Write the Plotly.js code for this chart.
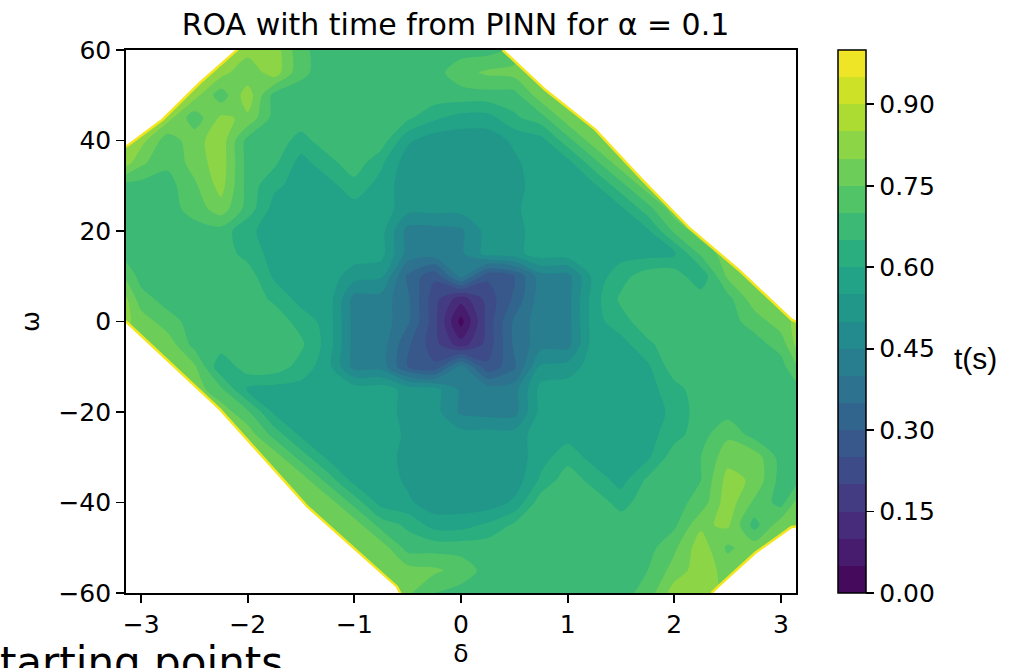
<!DOCTYPE html>
<html><head><meta charset="utf-8">
<script src="https://cdn.plot.ly/plotly-3.0.1.min.js"></script>
<style>html,body{margin:0;padding:0;background:#fff;overflow:hidden}#chart{width:1023px;height:668px}</style>
</head><body><div id="chart"></div>
<script>
// rotor angle δ (rad) and speed ω grid
const deltaGrid = [-3.1416,-3.0,-2.75,-2.5,-2.25,-2.0,-1.75,-1.5,-1.25,-1.0,-0.75,-0.5,-0.25,0,0.25,0.5,0.75,1.0,1.25,1.5,1.75,2.0,2.25,2.5,2.75,3.0,3.1416];
const omegaGrid = [-60,-55,-50,-45,-40,-35,-30,-25,-20,-15,-10,-5,0,5,10,15,20,25,30,35,40,45,50,55,60];
// time t(s) to reach the equilibrium, rows follow omegaGrid
const tGrid = [
[.79,.79,.79,.79,.79,.79,.79,.79,.79,.79,.79,.76,.70,.68,.68,.68,.68,.68,.68,.68,.72,.83,.82,.79,.79,.79,.79],
[.79,.79,.79,.79,.79,.79,.79,.79,.79,.79,.79,.77,.76,.73,.68,.68,.68,.68,.68,.68,.70,.77,.83,.78,.79,.79,.79],
[.79,.79,.79,.79,.79,.79,.79,.79,.79,.79,.78,.68,.68,.68,.68,.68,.68,.68,.68,.68,.68,.74,.83,.74,.78,.79,.79],
[.79,.79,.79,.79,.79,.79,.79,.79,.79,.78,.68,.64,.58,.58,.61,.66,.68,.68,.68,.68,.68,.69,.79,.81,.68,.78,.79],
[.79,.79,.79,.79,.79,.79,.79,.79,.78,.68,.58,.56,.52,.52,.52,.56,.68,.68,.68,.63,.68,.68,.72,.83,.74,.68,.76],
[.79,.79,.79,.79,.79,.79,.79,.78,.68,.58,.58,.54,.52,.52,.52,.52,.61,.68,.63,.58,.66,.68,.70,.82,.79,.68,.68],
[.79,.79,.79,.79,.79,.79,.78,.68,.59,.58,.58,.53,.52,.52,.52,.52,.58,.63,.58,.58,.59,.68,.70,.78,.78,.68,.68],
[.79,.79,.79,.79,.79,.78,.68,.59,.58,.58,.58,.54,.52,.52,.52,.52,.58,.58,.58,.58,.58,.63,.68,.74,.68,.68,.68],
[.79,.79,.79,.79,.78,.71,.59,.58,.58,.58,.58,.53,.52,.44,.43,.43,.57,.58,.58,.58,.58,.61,.68,.68,.68,.68,.68],
[.79,.79,.79,.78,.71,.59,.58,.58,.58,.58,.58,.53,.52,.44,.43,.43,.57,.58,.58,.58,.58,.63,.68,.68,.68,.68,.68],
[.79,.79,.79,.76,.61,.68,.68,.63,.57,.43,.43,.30,.26,.42,.26,.34,.51,.52,.58,.58,.59,.68,.68,.68,.68,.68,.74],
[.79,.79,.78,.68,.68,.68,.68,.66,.58,.43,.43,.31,.22,.12,.22,.36,.43,.43,.58,.58,.64,.68,.68,.68,.68,.72,.81],
[.81,.78,.72,.68,.68,.68,.68,.63,.58,.43,.43,.36,.22,.03,.22,.36,.43,.43,.58,.63,.68,.68,.68,.68,.72,.78,.81],
[.81,.72,.68,.68,.68,.68,.64,.58,.58,.43,.43,.36,.22,.12,.22,.31,.43,.43,.58,.66,.68,.68,.68,.68,.78,.79,.79],
[.74,.68,.68,.68,.68,.68,.59,.58,.58,.52,.51,.34,.26,.42,.26,.30,.43,.43,.57,.63,.68,.68,.61,.76,.79,.79,.79],
[.68,.68,.68,.68,.68,.63,.58,.58,.58,.58,.57,.43,.43,.44,.52,.53,.58,.58,.58,.58,.58,.59,.71,.78,.79,.79,.79],
[.68,.68,.68,.68,.68,.61,.58,.58,.58,.58,.57,.43,.43,.44,.52,.53,.58,.58,.58,.58,.59,.71,.78,.79,.79,.79,.79],
[.68,.68,.68,.72,.78,.68,.58,.58,.58,.58,.58,.52,.52,.52,.52,.54,.58,.58,.58,.59,.68,.78,.79,.79,.79,.79,.79],
[.68,.68,.68,.74,.82,.68,.61,.58,.58,.63,.58,.52,.52,.52,.52,.53,.58,.58,.59,.68,.78,.79,.79,.79,.79,.79,.79],
[.82,.76,.71,.77,.83,.68,.66,.58,.63,.68,.61,.52,.52,.52,.52,.54,.58,.58,.68,.78,.79,.79,.79,.79,.79,.79,.79],
[.82,.82,.72,.78,.83,.68,.68,.63,.68,.68,.68,.56,.52,.52,.52,.56,.58,.68,.78,.79,.79,.79,.79,.79,.79,.79,.79],
[.82,.82,.82,.72,.81,.79,.68,.68,.68,.68,.68,.66,.61,.58,.58,.64,.68,.78,.79,.79,.79,.79,.79,.79,.79,.79,.79],
[.82,.82,.82,.82,.72,.83,.68,.68,.68,.68,.68,.68,.68,.68,.68,.68,.78,.79,.79,.79,.79,.79,.79,.79,.79,.79,.79],
[.82,.82,.82,.82,.82,.76,.83,.71,.68,.68,.68,.68,.68,.73,.76,.77,.79,.79,.79,.79,.79,.79,.79,.79,.79,.79,.79],
[.82,.82,.82,.82,.82,.82,.83,.71,.68,.68,.68,.68,.68,.68,.68,.71,.79,.79,.79,.79,.79,.79,.79,.79,.79,.79,.79]
];
// edges of the region of attraction (outside is blank)
const roaTopLeftDelta = [-3.1416,-2.80,-2.45,-2.10];
const roaTopLeftOmega = [38.6,44.6,52.7,60];
const roaTopRightDelta = [0.39,0.79,1.26,1.70,2.13,2.60,3.10,3.1416];
const roaTopRightOmega = [60,51.2,42.4,31.3,20.9,11.5,0.4,0];
const roaBottomLeftDelta = [-3.1416,-2.26,-1.44,-0.60,-0.57];
const roaBottomLeftOmega = [0,-19.4,-40.9,-58.6,-60];
const roaBottomRightDelta = [2.35,2.41,2.76,3.10,3.1416];
const roaBottomRightOmega = [-60,-58.6,-51.1,-45.4,-45.3];
// colorbar ticks
const cbTickVals = [0,0.15,0.30,0.45,0.60,0.75,0.90];
const cbTickText = ['0.00','0.15','0.30','0.45','0.60','0.75','0.90'];
const xTickVals = [-3,-2,-1,0,1,2,3];
const yTickVals = [-60,-40,-20,0,20,40,60];

const viridis = [[0,'#440154'],[0.1,'#482475'],[0.2,'#414487'],[0.3,'#355f8d'],[0.4,'#2a788e'],[0.5,'#21918c'],[0.6,'#22a884'],[0.7,'#44bf70'],[0.8,'#7ad151'],[0.9,'#bddf26'],[1,'#fde725']];

const XL = -4, XR = 4, YB = -80, YT = 80;
function maskTrace(xs, ys){
  return {type:'scatter', mode:'lines', x:xs, y:ys, fill:'toself', fillcolor:'#ffffff',
          line:{color:'#f3e51e', width:2.5}, hoverinfo:'skip', showlegend:false};
}
function maskTL(){
  const n = roaTopLeftDelta.length;
  return maskTrace(roaTopLeftDelta.concat([roaTopLeftDelta[n-1], XL, XL]),
                   roaTopLeftOmega.concat([YT, YT, roaTopLeftOmega[0]]));
}
function maskTR(){
  const n = roaTopRightDelta.length;
  return maskTrace(roaTopRightDelta.concat([XR, XR, roaTopRightDelta[0]]),
                   roaTopRightOmega.concat([roaTopRightOmega[n-1], YT, YT]));
}
function maskBL(){
  const n = roaBottomLeftDelta.length;
  return maskTrace(roaBottomLeftDelta.concat([roaBottomLeftDelta[n-1], XL, XL]),
                   roaBottomLeftOmega.concat([YB, YB, roaBottomLeftOmega[0]]));
}
function maskBR(){
  const n = roaBottomRightDelta.length;
  return maskTrace(roaBottomRightDelta.concat([XR, XR, roaBottomRightDelta[0]]),
                   roaBottomRightOmega.concat([roaBottomRightOmega[n-1], YB, YB]));
}

const contour = {
  type:'contour', x:deltaGrid, y:omegaGrid, z:tGrid,
  colorscale:viridis, zmin:0, zmax:1, zauto:false,
  autocontour:false,
  contours:{start:0, end:1, size:0.05, coloring:'fill', showlines:false},
  line:{width:0, smoothing:0.8},
  hoverinfo:'skip',
  colorbar:{
    thickness:28, thicknessmode:'pixels', len:1, lenmode:'fraction',
    x:(838-126)/670, xanchor:'left', y:0.5, yanchor:'middle', xpad:0, ypad:0,
    outlinewidth:1.5, outlinecolor:'#000',
    ticks:'outside', ticklen:8, tickwidth:1.8, tickcolor:'#000',
    tickmode:'array', tickvals:cbTickVals, ticktext:cbTickText,
    tickfont:{family:'DejaVu Sans', size:25, color:'#000'}
  }
};

const axisCommon = {
  ticks:'outside', ticklen:8, tickwidth:1.8, tickcolor:'#000',
  showline:true, mirror:true, linecolor:'#000', linewidth:1.8,
  showgrid:false, zeroline:false,
  tickfont:{family:'DejaVu Sans', size:25, color:'#000'}
};

const layout = {
  width:1023, height:668,
  margin:{l:126, r:227, t:50, b:75, pad:0},
  paper_bgcolor:'#fff', plot_bgcolor:'#fff',
  font:{family:'DejaVu Sans', size:25, color:'#000'},
  showlegend:false,
  title:{text:'ROA with time from PINN for α = 0.1', font:{family:'DejaVu Sans', size:30, color:'#000'},
         x:(455.5-126)/670, xref:'paper', xanchor:'center', y:1-24/668, yref:'container', yanchor:'middle'},
  xaxis:Object.assign({}, axisCommon, {range:[-Math.PI, Math.PI], tickmode:'array', tickvals:xTickVals,
         title:{text:'δ', font:{family:'DejaVu Sans', size:25}, standoff:8}}),
  yaxis:Object.assign({}, axisCommon, {range:[-60,60], tickmode:'array', tickvals:yTickVals,
         title:{text:'ω', font:{family:'DejaVu Sans', size:25}, standoff:12}}),
  annotations:[
    {text:'t(s)', xref:'paper', yref:'paper', x:(975-126)/670, y:(593-358)/543, xanchor:'center', yanchor:'middle',
     showarrow:false, font:{family:'Liberation Sans', size:30, color:'#000'}},
    {text:'starting points', xref:'paper', yref:'paper', x:(-24-126)/670, y:(593-663)/543, xanchor:'left', yanchor:'middle',
     showarrow:false, font:{family:'DejaVu Sans', size:42, color:'#000'}}
  ]
};

Plotly.newPlot('chart', [contour, maskTL(), maskTR(), maskBL(), maskBR()], layout, {displayModeBar:false, staticPlot:true});
</script>
</body></html>
